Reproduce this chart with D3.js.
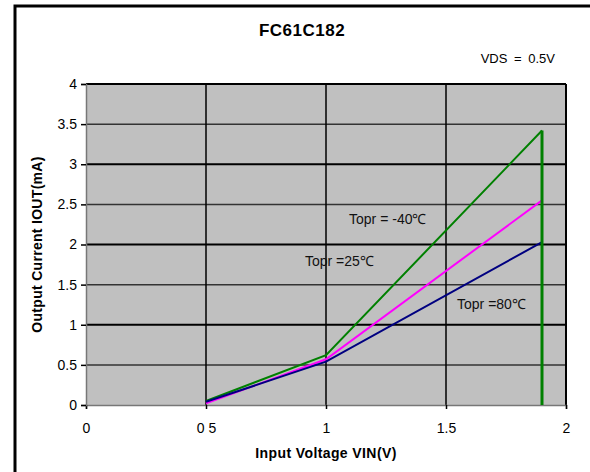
<!DOCTYPE html>
<html>
<head>
<meta charset="utf-8">
<script src="https://cdn.jsdelivr.net/npm/d3@7"></script>
<style>
  body { margin: 0; background: #fff; }
  svg { display: block; font-family: "Liberation Sans", Arial, sans-serif; }
</style>
</head>
<body>
<svg id="chart" width="590" height="472"></svg>
<script>
// data
const vin = [0.5, 1, 1.9];
const iMinus40 = [0.05, 0.62, 3.42];
const i25 = [0.02, 0.57, 2.55];
const i80 = [0.04, 0.54, 2.03];
const xTicks = [0, 0.5, 1, 1.5, 2];
const xTickLabels = ["0", "0 5", "1", "1.5", "2"];
const yTicks = [0, 0.5, 1, 1.5, 2, 2.5, 3, 3.5, 4];
const cutoffX = 1.9;

const series = [
  { name: "Topr = -40℃", values: iMinus40, color: "#008000", lx: 1.096, ly: 2.25 },
  { name: "Topr =25℃", values: i25, color: "#ff00ff", lx: 0.912, ly: 1.73 },
  { name: "Topr =80℃", values: i80, color: "#000080", lx: 1.546, ly: 1.2 }
];

const svg = d3.select("#chart");
const margin = { left: 86, right: 24, top: 84, bottom: 67 };
const w = 590 - margin.left - margin.right;
const h = 472 - margin.top - margin.bottom;

const x = d3.scaleLinear().domain([0, 2]).range([margin.left, margin.left + w]);
const y = d3.scaleLinear().domain([0, 4]).range([margin.top + h, margin.top]);

// outer frame
svg.append("rect")
  .attr("x", 15).attr("y", 6)
  .attr("width", 600).attr("height", 500)
  .attr("fill", "none")
  .attr("stroke", "#000")
  .attr("stroke-width", 3);

// plot background
svg.append("rect")
  .attr("x", x(0)).attr("y", y(4))
  .attr("width", x(2) - x(0)).attr("height", y(0) - y(4))
  .attr("fill", "#c0c0c0");

// horizontal grid
svg.append("g").selectAll("line")
  .data(yTicks.filter(d => d > 0))
  .join("line")
  .attr("x1", x(0)).attr("x2", x(2))
  .attr("y1", d => y(d)).attr("y2", d => y(d))
  .attr("stroke", d => (d % 1 === 0 ? "#000" : "#333"))
  .attr("stroke-width", d => (d % 1 === 0 ? 2 : 1.5));

// vertical grid
svg.append("g").selectAll("line")
  .data(xTicks.filter(d => d > 0))
  .join("line")
  .attr("x1", d => x(d)).attr("x2", d => x(d))
  .attr("y1", y(4)).attr("y2", y(0))
  .attr("stroke", "#000")
  .attr("stroke-width", d => (d === 2 ? 2 : 1.5));

// axes
const xAxis = svg.append("g")
  .attr("transform", `translate(0,${y(0)})`)
  .call(d3.axisBottom(x).tickValues(xTicks).tickSize(4).tickPadding(14)
    .tickFormat((d, i) => xTickLabels[i]));
xAxis.select(".domain").attr("stroke", "#777").attr("stroke-width", 1.5);
xAxis.selectAll(".tick line").attr("stroke", "#000").attr("stroke-width", 1.5);
xAxis.selectAll(".tick text").attr("font-size", 14).attr("fill", "#000")
  .attr("font-family", "Liberation Sans, Arial, sans-serif");

const yAxis = svg.append("g")
  .attr("transform", `translate(${x(0)},0)`)
  .call(d3.axisLeft(y).tickValues(yTicks).tickSize(5).tickPadding(4)
    .tickFormat(d3.format("")));
yAxis.select(".domain").attr("stroke", "#777").attr("stroke-width", 1.5);
yAxis.selectAll(".tick line").attr("stroke", "#000").attr("stroke-width", 1.5);
yAxis.selectAll(".tick text").attr("font-size", 14).attr("fill", "#000")
  .attr("font-family", "Liberation Sans, Arial, sans-serif");

// data lines
const line = d3.line()
  .x((d, i) => x(vin[i]))
  .y(d => y(d));

series.forEach(s => {
  svg.append("path")
    .datum(s.values)
    .attr("d", line)
    .attr("fill", "none")
    .attr("stroke", s.color)
    .attr("stroke-width", 2);
});

// cutoff line at VIN = 1.9
svg.append("line")
  .attr("x1", x(cutoffX)).attr("x2", x(cutoffX))
  .attr("y1", y(iMinus40[2])).attr("y2", y(0))
  .attr("stroke", "#008000")
  .attr("stroke-width", 3);

// curve labels
svg.append("g").selectAll("text")
  .data(series)
  .join("text")
  .attr("x", d => x(d.lx))
  .attr("y", d => y(d.ly))
  .attr("font-size", 14)
  .attr("fill", "#111")
  .text(d => d.name);

// titles
svg.append("text")
  .attr("x", 302).attr("y", 36)
  .attr("text-anchor", "middle")
  .attr("font-size", 17).attr("font-weight", "bold")
  .attr("letter-spacing", 0.5)
  .text("FC61C182");

svg.append("text")
  .attr("x", 555).attr("y", 63)
  .attr("text-anchor", "end")
  .attr("font-size", 13)
  .attr("word-spacing", 3)
  .text("VDS = 0.5V");

svg.append("text")
  .attr("x", x(1)).attr("y", 458)
  .attr("text-anchor", "middle")
  .attr("font-size", 14).attr("font-weight", "bold")
  .attr("letter-spacing", 0.4)
  .text("Input Voltage VIN(V)");

svg.append("text")
  .attr("transform", `translate(42,${y(2)}) rotate(-90)`)
  .attr("text-anchor", "middle")
  .attr("font-size", 14).attr("font-weight", "bold")
  .attr("letter-spacing", 0.3)
  .text("Output Current IOUT(mA)");
</script>
</body>
</html>
